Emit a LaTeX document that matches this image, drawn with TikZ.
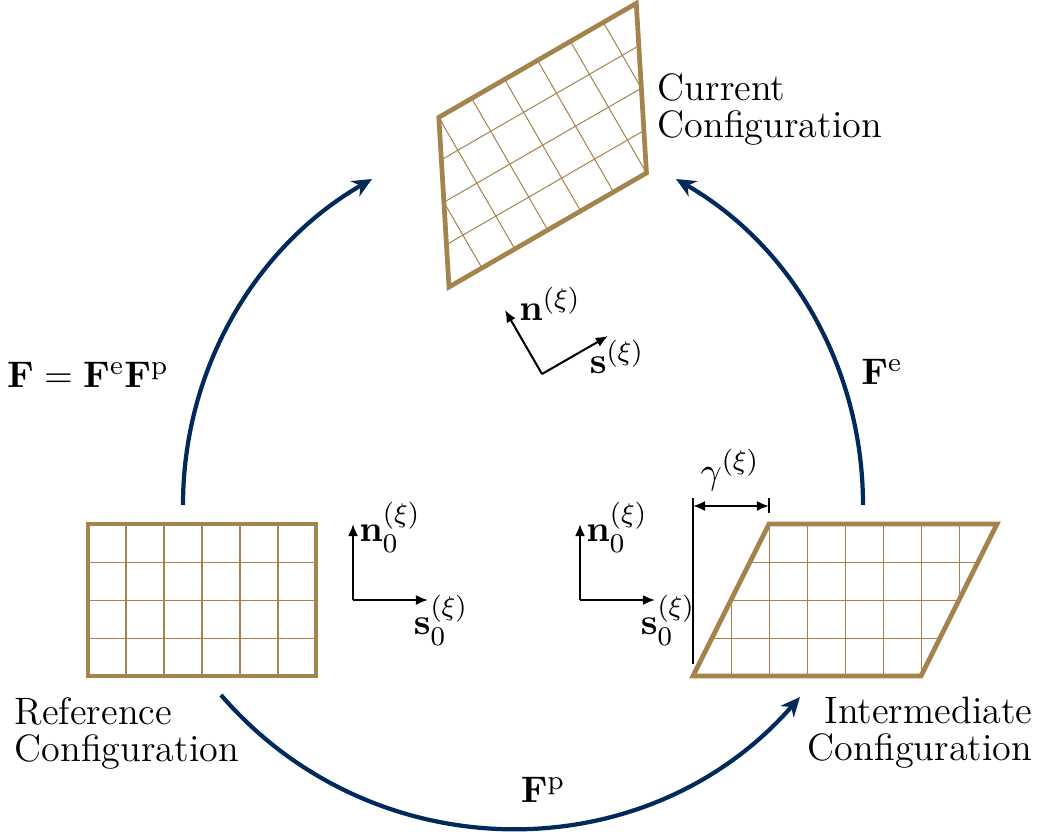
\documentclass[tikz,border=0pt]{standalone}
\usepackage{amsmath}
\usepackage{amssymb}
\usepackage{xcolor}
\usetikzlibrary{arrows.meta, positioning}
\definecolor{navyarc}{HTML}{002A5C}
\definecolor{grainbrown}{HTML}{A4834C}
\tikzset{
    every node/.style={inner sep=0pt,font=\fontsize{10.95}{10.95}\selectfont},
    configname/.style={font=\fontsize{11.3}{10.95}\selectfont},
    frameline/.style={grainbrown,line width=1.4pt,line join=miter},
    gridline/.style={grainbrown,line width=0.3pt},
    maparc/.style={navyarc,line width=1.25pt,-{Stealth[length=5.8pt,width=5.2pt]}},
    slipaxis/.style={black,line width=0.6pt,-{Latex[length=3.6pt,width=3pt]}},
}

\begin{document}
\begin{tikzpicture}[x=0.104mm,y=0.104mm]
    \useasboundingbox (0,0) rectangle (1042,833);

    % reference grains
    \begin{scope}[shift={(88,157)}]
        \foreach \gx in {38,76,...,190}
            \draw[gridline] (\gx,0) -- (\gx,152);
        \foreach \gy in {38,76,114}
            \draw[gridline] (0,\gy) -- (228,\gy);
        \draw[frameline] (0,0) rectangle (228,152);
    \end{scope}

    % intermediate and current grains: same shear, current one rotated
    \foreach \ox/\oy/\rot in {693/157/0, 449/546/30} {
        \begin{scope}[shift={(\ox,\oy)},rotate=\rot]
            \begin{scope}
                \clip (0,0) -- (228,0) -- (304,152) -- (76,152) -- cycle;
                \foreach \gx in {38,76,...,266}
                    \draw[gridline] (\gx,0) -- (\gx,152);
                \foreach \gy in {38,76,114}
                    \draw[gridline] (0,\gy) -- (304,\gy);
            \end{scope}
            \draw[frameline] (0,0) -- (228,0) -- (304,152) -- (76,152) -- cycle;
        \end{scope}
    }

    % slip systems
    \coordinate (refO) at (353,233);
    \coordinate (refS) at (428,233);
    \coordinate (refN) at (353,309);
    \coordinate (intO) at (580,233);
    \coordinate (intS) at (655,233);
    \coordinate (intN) at (580,309);
    \coordinate (curO) at (542,459);
    \coordinate (curS) at (608,497);
    \coordinate (curN) at (505,523);
    \draw[slipaxis] (refO) -- (refS);
    \draw[slipaxis] (refO) -- (refN);
    \draw[slipaxis] (intO) -- (intS);
    \draw[slipaxis] (intO) -- (intN);
    \draw[slipaxis] (curO) -- (curS);
    \draw[slipaxis] (curO) -- (curN);

    \node (refNlab) at (390,306) {$\mathbf{n}_0^{(\xi)}$};
    \node (refSlab) at (441,213) {$\mathbf{s}_0^{(\xi)}$};
    \node (intNlab) at (617,306) {$\mathbf{n}_0^{(\xi)}$};
    \node (intSlab) at (668,213) {$\mathbf{s}_0^{(\xi)}$};
    \node (curNlab) at (550,529) {$\mathbf{n}^{(\xi)}$};
    \node (curSlab) at (617,476) {$\mathbf{s}^{(\xi)}$};

    % shear measure
    \coordinate (shearB) at (693,169);
    \coordinate (shearT) at (693,335);
    \coordinate (tickB) at (769,320);
    \coordinate (tickT) at (769,335);
    \coordinate (dimL) at (693,327);
    \coordinate (dimR) at (769,327);
    \draw[line width=0.6pt] (shearB) -- (shearT);
    \draw[line width=0.6pt] (tickB) -- (tickT);
    \draw[line width=0.6pt,{Latex[length=3.6pt,width=3pt]}-{Latex[length=3.6pt,width=3pt]}] (dimL) -- (dimR);
    \node (gammalab) at (730,363) {$\gamma^{(\xi)}$};

    % maps between configurations
    \coordinate (refTop) at (183,328);
    \coordinate (curLeft) at (372,654);
    \coordinate (intTop) at (863,328);
    \coordinate (curRight) at (676,654);
    \coordinate (refBot) at (221,138);
    \coordinate (intBot) at (800,136);
    \draw[maparc] (refTop) to[out=90,in=210,looseness=0.92] (curLeft);
    \draw[maparc] (intTop) to[out=90,in=-30,looseness=0.92] (curRight);
    \draw[maparc] (refBot) to[bend right=49,looseness=1.03] (intBot);

    \node (Flab) at (88,458) {$\mathbf{F}=\mathbf{F}^{\mathrm{e}}\mathbf{F}^{\mathrm{p}}$};
    \node (Felab) at (882,461) {$\mathbf{F}^{\mathrm{e}}$};
    \node (Fplab) at (543,43) {$\mathbf{F}^{\mathrm{p}}$};

    % configuration names
    \node[configname,anchor=west,align=left] (curName) at (657,724) {Current\\Configuration};
    \node[configname,anchor=west,align=left] (refName) at (14,100) {Reference\\Configuration};
    \node[configname,anchor=east,align=right] (intName) at (1033,100) {Intermediate\\Configuration};
\end{tikzpicture}
\end{document}
